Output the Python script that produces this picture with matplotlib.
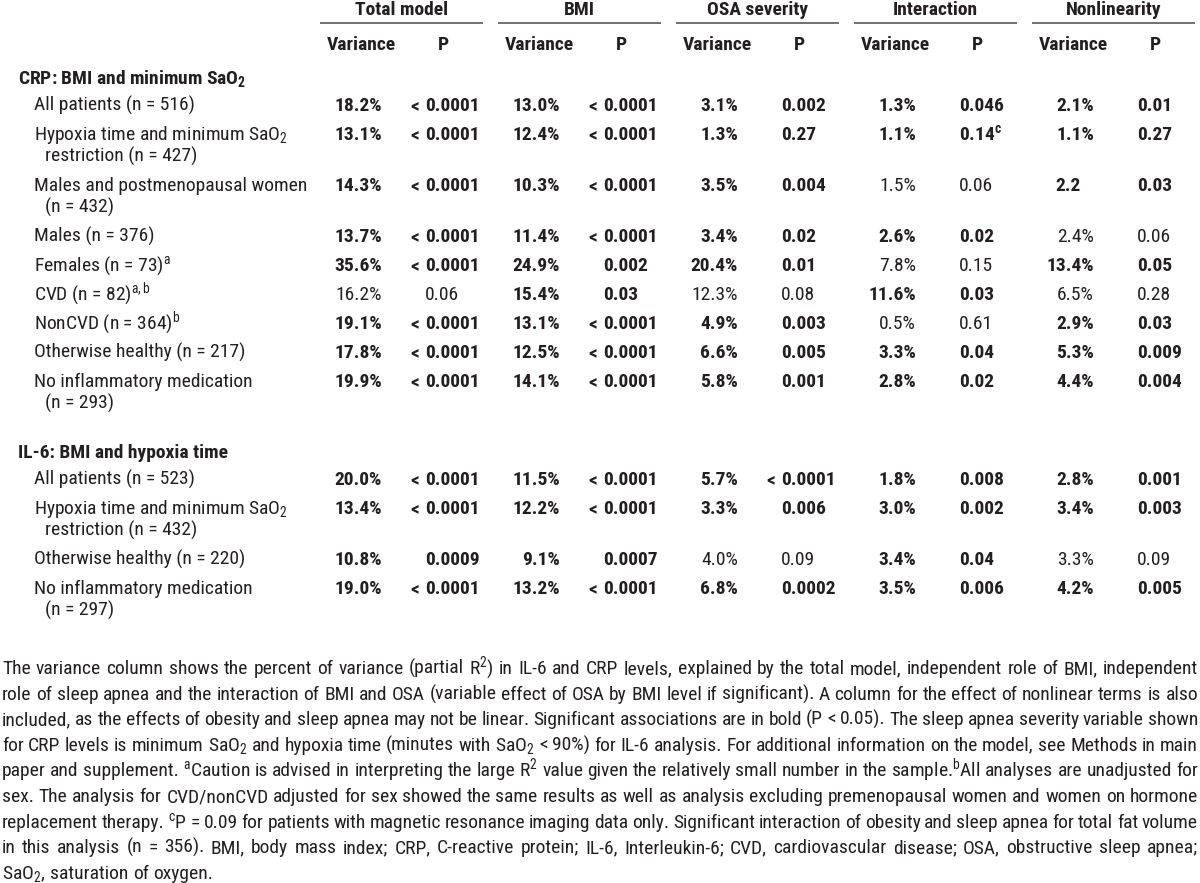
import matplotlib
matplotlib.use("Agg")
import matplotlib.pyplot as plt
from matplotlib import font_manager

# condensed sans like the source if one is installed; math parts use the text font
faces = {(f.name, f.stretch) for f in font_manager.fontManager.ttflist}
STRETCH = "normal"
if ("Roboto Condensed", "normal") in faces or ("Roboto Condensed", "condensed") in faces:
    FONT, FS = "Roboto Condensed", 14
elif ("Roboto", "condensed") in faces:
    FONT, FS, STRETCH = "Roboto", 14, "condensed"
else:
    FONT, FS = "Liberation Sans", 12.5
plt.rcParams["font.family"] = FONT
plt.rcParams["font.stretch"] = STRETCH
plt.rcParams["mathtext.default"] = "regular"

INK = "#231f20"

groups = ["Total model", "BMI", "OSA severity", "Interaction", "Nonlinearity"]
sub_headers = ["Variance", "P"]

crp_title = "CRP: BMI and minimum SaO$_2$"
crp_labels = [
    ["All patients (n = 516)"],
    ["Hypoxia time and minimum SaO$_2$", "restriction (n = 427)"],
    ["Males and postmenopausal women", "(n = 432)"],
    ["Males (n = 376)"],
    ["Females (n = 73)$^a$"],
    ["CVD (n = 82)$^{a,b}$"],
    ["NonCVD (n = 364)$^b$"],
    ["Otherwise healthy (n = 217)"],
    ["No inflammatory medication", "(n = 293)"],
]
crp_variance = [
    ["18.2%", "13.0%", "3.1%", "1.3%", "2.1%"],
    ["13.1%", "12.4%", "1.3%", "1.1%", "1.1%"],
    ["14.3%", "10.3%", "3.5%", "1.5%", "2.2"],
    ["13.7%", "11.4%", "3.4%", "2.6%", "2.4%"],
    ["35.6%", "24.9%", "20.4%", "7.8%", "13.4%"],
    ["16.2%", "15.4%", "12.3%", "11.6%", "6.5%"],
    ["19.1%", "13.1%", "4.9%", "0.5%", "2.9%"],
    ["17.8%", "12.5%", "6.6%", "3.3%", "5.3%"],
    ["19.9%", "14.1%", "5.8%", "2.8%", "4.4%"],
]
crp_p = [
    ["< 0.0001", "< 0.0001", "0.002", "0.046", "0.01"],
    ["< 0.0001", "< 0.0001", "0.27", "0.14$^c$", "0.27"],
    ["< 0.0001", "< 0.0001", "0.004", "0.06", "0.03"],
    ["< 0.0001", "< 0.0001", "0.02", "0.02", "0.06"],
    ["< 0.0001", "0.002", "0.01", "0.15", "0.05"],
    ["0.06", "0.03", "0.08", "0.03", "0.28"],
    ["< 0.0001", "< 0.0001", "0.003", "0.61", "0.03"],
    ["< 0.0001", "< 0.0001", "0.005", "0.04", "0.009"],
    ["< 0.0001", "< 0.0001", "0.001", "0.02", "0.004"],
]
crp_bold = [
    [1, 1, 1, 1, 1],
    [1, 1, 1, 1, 1],
    [1, 1, 1, 0, 1],
    [1, 1, 1, 1, 0],
    [1, 1, 1, 0, 1],
    [0, 1, 0, 1, 0],
    [1, 1, 1, 0, 1],
    [1, 1, 1, 1, 1],
    [1, 1, 1, 1, 1],
]

il6_title = "IL-6: BMI and hypoxia time"
il6_labels = [
    ["All patients (n = 523)"],
    ["Hypoxia time and minimum SaO$_2$", "restriction (n = 432)"],
    ["Otherwise healthy (n = 220)"],
    ["No inflammatory medication", "(n = 297)"],
]
il6_variance = [
    ["20.0%", "11.5%", "5.7%", "1.8%", "2.8%"],
    ["13.4%", "12.2%", "3.3%", "3.0%", "3.4%"],
    ["10.8%", "9.1%", "4.0%", "3.4%", "3.3%"],
    ["19.0%", "13.2%", "6.8%", "3.5%", "4.2%"],
]
il6_p = [
    ["< 0.0001", "< 0.0001", "< 0.0001", "0.008", "0.001"],
    ["< 0.0001", "< 0.0001", "0.006", "0.002", "0.003"],
    ["0.0009", "0.0007", "0.09", "0.04", "0.09"],
    ["< 0.0001", "< 0.0001", "0.0002", "0.006", "0.005"],
]
il6_bold = [
    [1, 1, 1, 1, 1],
    [1, 1, 1, 1, 1],
    [1, 1, 0, 1, 0],
    [1, 1, 1, 1, 1],
]

footnote_lines = [
    "The variance column shows the percent of variance (partial R$^2$) in IL-6 and CRP levels, explained by the total model, independent role of BMI, independent",
    "role of sleep apnea and the interaction of BMI and OSA (variable effect of OSA by BMI level if significant). A column for the effect of nonlinear terms is also",
    "included, as the effects of obesity and sleep apnea may not be linear. Significant associations are in bold (P < 0.05). The sleep apnea severity variable shown",
    "for CRP levels is minimum SaO$_2$ and hypoxia time (minutes with SaO$_2$ < 90%) for IL-6 analysis. For additional information on the model, see Methods in main",
    "paper and supplement. $^a$Caution is advised in interpreting the large R$^2$ value given the relatively small number in the sample.$^b$All analyses are unadjusted for",
    "sex. The analysis for CVD/nonCVD adjusted for sex showed the same results as well as analysis excluding premenopausal women and women on hormone",
    "replacement therapy. $^c$P = 0.09 for patients with magnetic resonance imaging data only. Significant interaction of obesity and sleep apnea for total fat volume",
    "in this analysis (n = 356). BMI, body mass index; CRP, C-reactive protein; IL-6, Interleukin-6; CVD, cardiovascular disease; OSA, obstructive sleep apnea;",
    "SaO$_2$, saturation of oxygen.",
]

# layout (pixel units, y grows downward)
G0, GSTEP, GW = 320, 178, 163
VAR_R, P_L, VAR_C, P_C = 62, 105, 41, 123
X_TITLE, X_LABEL, X_CONT = 18, 34, 45
ROW, LINE = 29, 22

fig = plt.figure(figsize=(12, 8.83), dpi=100)
ax = fig.add_axes([0, 0, 1, 1])
ax.set_xlim(0, 1200)
ax.set_ylim(883, 0)
ax.axis("off")


def txt(x, y, s, bold=False, ha="left"):
    return ax.text(x, y, s, fontsize=FS, color=INK, ha=ha, va="baseline",
                   fontweight="bold" if bold else "normal")


# column headers
for g, name in enumerate(groups):
    x0 = G0 + g * GSTEP
    txt(x0 + GW / 2, 15, name, bold=True, ha="center")
    ax.plot([x0, x0 + GW], [23, 23], color="#4a4a4a", lw=1.1, solid_capstyle="butt")
    txt(x0 + VAR_C, 50, sub_headers[0], bold=True, ha="center")
    txt(x0 + P_C, 50, sub_headers[1], bold=True, ha="center")

sections = [
    (crp_title, crp_labels, crp_variance, crp_p, crp_bold),
    (il6_title, il6_labels, il6_variance, il6_p, il6_bold),
]

y = 84
for title, labels, variance, pvals, bold in sections:
    txt(X_TITLE, y, title, bold=True)
    y += 27
    for r, lines in enumerate(labels):
        for k, line in enumerate(lines):
            txt(X_LABEL if k == 0 else X_CONT, y + k * LINE, line)
        for g in range(len(groups)):
            x0 = G0 + g * GSTEP
            b = bool(bold[r][g])
            v = variance[r][g]
            # a value printed without % keeps its digits where the others sit
            txt(x0 + VAR_R - (0 if v.endswith("%") else 13), y, v, bold=b, ha="right")
            p = pvals[r][g]
            if p.startswith("< "):
                txt(x0 + P_L - 10, y, "<", bold=b, ha="center")
                p = p[2:]
            txt(x0 + P_L, y, p, bold=b)
        y += LINE * (len(lines) - 1) + ROW
    y += 20

# justified footnote
renderer = fig.canvas.get_renderer()


def width_of(s):
    t = ax.text(0, 0, s, fontsize=FS)
    w = t.get_window_extent(renderer).width
    t.remove()
    return w


LEFT, RIGHT = 2, 1198
for i, line in enumerate(footnote_lines):
    yb = 674 + 25.6 * i
    words = line.split(" ")
    widths = [width_of(w) for w in words]
    if i == len(footnote_lines) - 1:
        gap = width_of("a a") - width_of("aa")
    else:
        gap = (RIGHT - LEFT - sum(widths)) / (len(words) - 1)
    x = LEFT
    for w, wd in zip(words, widths):
        txt(x, yb, w)
        x += wd + gap

fig.savefig("out.png", dpi=100, facecolor="white")
